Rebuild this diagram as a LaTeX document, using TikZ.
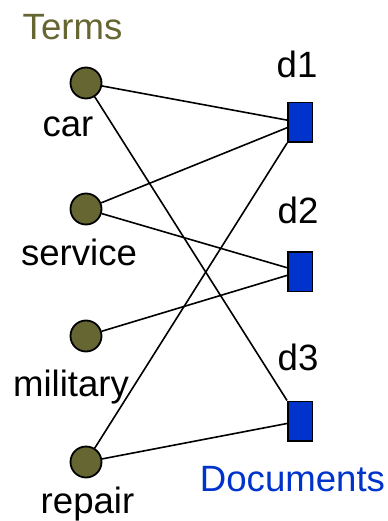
\documentclass[tikz,border=0pt]{standalone}
\usepackage{fontspec}
\setmainfont{Liberation Sans}
\definecolor{termolive}{HTML}{666633}
\definecolor{docblue}{HTML}{0033CC}
\begin{document}
\begin{tikzpicture}[x=1bp,y=-1bp,
  term/.style={circle,draw=black,line width=1.8bp,fill=termolive,minimum size=31bp,inner sep=0pt},
  doc/.style={rectangle,draw=black,line width=1.5bp,fill=docblue,minimum width=24.5bp,minimum height=39.5bp,inner sep=0pt},
  lbl/.style={anchor=base,inner sep=0pt,font=\fontsize{36.6bp}{44bp}\selectfont},
  link/.style={draw=black,line width=1.6bp}]
\useasboundingbox (0,0) rectangle (387,521);

% term nodes
\node[term] (car) at (86,83) {};
\node[term] (service) at (86,209) {};
\node[term] (military) at (86,336) {};
\node[term] (repair) at (86,462) {};

% document nodes
\node[doc] (d1) at (300,122.5) {};
\node[doc] (d2) at (300,271.5) {};
\node[doc] (d3) at (300,421) {};

% labels
\node[lbl,text=termolive] (termstitle) at (72.5,40) {Terms};
\node[lbl] (carlbl) at (68,137) {car};
\node[lbl] (servicelbl) at (79,265) {service};
\node[lbl] (militarylbl) at (71,396) {military};
\node[lbl] (repairlbl) at (87.5,513) {repair};
\node[lbl] (d1lbl) at (297,78) {d1};
\node[lbl] (d2lbl) at (298,223) {d2};
\node[lbl] (d3lbl) at (298,370) {d3};
\node[lbl,text=docblue] (docstitle) at (292.5,491) {Documents};

% term-document links
\draw[link] (car) -- (d1);
\draw[link] (car) -- (d3);
\draw[link] (service) -- (d1);
\draw[link] (service) -- (d2);
\draw[link] (military) -- (d2);
\draw[link] (repair) -- (d1);
\draw[link] (repair) -- (d3);
\end{tikzpicture}
\end{document}
